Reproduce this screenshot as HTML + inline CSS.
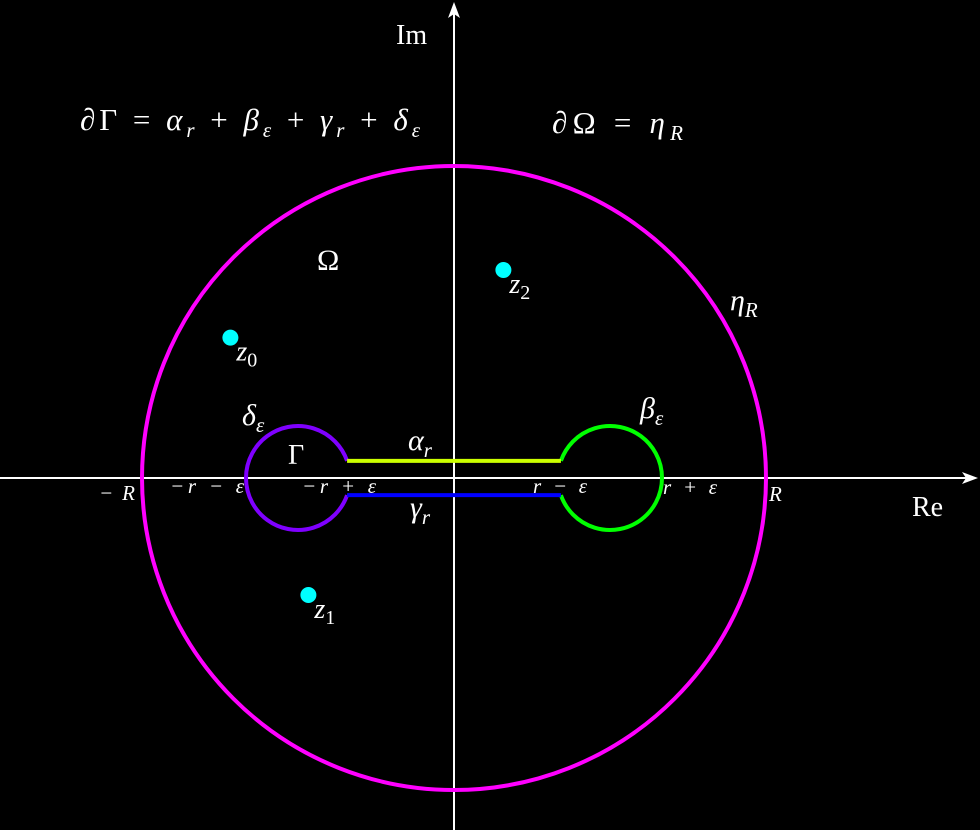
<!DOCTYPE html>
<html><head><meta charset="utf-8"><style>
html,body{margin:0;padding:0;background:#000;}
svg{display:block}
text{font-family:"Liberation Serif",serif;fill:#fff;font-style:italic}
.n{font-style:normal}
</style></head><body>
<svg width="980" height="830" viewBox="0 0 980 830">
<g id="g"></g>
</svg>
<script>
// data (in units; 1 unit = 52 px)
const Rv = [6];
const rv = [3];
const epsv = [1];
const pointNames = ["z0","z1","z2"];
const pointRe = [-4.3, -2.8, 0.95];
const pointIm = [2.7, -2.25, 4.0];
const ox=454, oy=478, u=52;
const sx=v=>ox+v*u, sy=v=>oy-v*u;
const NS="http://www.w3.org/2000/svg";
const g=document.getElementById('g');
function mk(tag,attrs,name){const e=document.createElementNS(NS,tag);for(const k in attrs)e.setAttribute(k,attrs[k]);


g.appendChild(e);return e;}
const R=Rv[0], r=rv[0], eps=epsv[0];
// axes
mk('line',{x1:0,y1:oy,x2:966,y2:oy,stroke:'#fff','stroke-width':2},'x-axis');
mk('polygon',{points:`978,${oy} 962,${oy-6} 966,${oy} 962,${oy+6}`,fill:'#fff'},'x-axis-arrow');
mk('line',{x1:ox,y1:830,x2:ox,y2:14,stroke:'#fff','stroke-width':2},'y-axis');
mk('polygon',{points:`${ox},2 ${ox-6},18 ${ox},14 ${ox+6},18`,fill:'#fff'},'y-axis-arrow');
// big circle
mk('circle',{cx:sx(0),cy:sy(0),r:R*u,fill:'none',stroke:'#ff00ff','stroke-width':4},'eta-r-circle');
const h=0.33;
const a=Math.asin(h/eps);
const ex=eps*Math.cos(a);
mk('path',{d:`M ${sx(-r+ex)} ${sy(h)} A ${eps*u} ${eps*u} 0 1 0 ${sx(-r+ex)} ${sy(-h)}`,fill:'none',stroke:'#7f00ff','stroke-width':4},'delta-eps-arc');
mk('path',{d:`M ${sx(r-ex)} ${sy(h)} A ${eps*u} ${eps*u} 0 1 1 ${sx(r-ex)} ${sy(-h)}`,fill:'none',stroke:'#00ff00','stroke-width':4},'beta-eps-arc');
mk('line',{x1:sx(-r+ex),y1:sy(h),x2:sx(r-ex),y2:sy(h),stroke:'#ccff00','stroke-width':4},'alpha-r-segment');
mk('line',{x1:sx(-r+ex),y1:sy(-h),x2:sx(r-ex),y2:sy(-h),stroke:'#0000ff','stroke-width':4},'gamma-r-segment');
pointNames.forEach((n,i)=>{
 mk('circle',{cx:sx(pointRe[i]),cy:sy(pointIm[i]),r:8,fill:'#00ffff'},'point-'+n);
 const t=mk('text',{x:sx(pointRe[i])+6,y:sy(pointIm[i])+23,'font-size':28},'label-'+n);
 t.innerHTML='z<tspan font-size="20" font-style="normal" dy="6">'+n.slice(1)+'</tspan>';
});
function txt(x,y,s,html,name,cls,len){const t=mk('text',{x:x,y:y,'font-size':s},name);if(cls)t.setAttribute('class',cls);if(len){t.setAttribute('textLength',len);t.setAttribute('lengthAdjust','spacing');}t.innerHTML=html;return t;}
txt(396,44,28,'Im','im-label','n');
txt(912,516,28,'Re','re-label','n');
txt(80,130,31,'<tspan font-style="normal">∂Γ = </tspan>α<tspan font-size="21" dy="7">r</tspan><tspan dy="-7" font-style="normal"> + </tspan>β<tspan font-size="21" dy="7">ε</tspan><tspan dy="-7" font-style="normal"> + </tspan>γ<tspan font-size="21" dy="7">r</tspan><tspan dy="-7" font-style="normal"> + </tspan>δ<tspan font-size="21" dy="7">ε</tspan>','boundary-gamma-formula',null,340);
txt(552,133,31,'<tspan font-style="normal">∂Ω = </tspan>η<tspan font-size="21" dy="7">R</tspan>','boundary-omega-formula',null,131);
txt(317,270,30,'Ω','omega-label','n');
txt(288,464,28,'Γ','gamma-region-label','n');
txt(730,310,30,'η<tspan font-size="21" dy="7">R</tspan>','eta-r-label');
txt(242,425,30,'δ<tspan font-size="21" dy="7">ε</tspan>','delta-eps-label');
txt(640,418,30,'β<tspan font-size="21" dy="7">ε</tspan>','beta-eps-label');
txt(408,450,30,'α<tspan font-size="21" dy="7">r</tspan>','alpha-r-label');
txt(410,517,30,'γ<tspan font-size="21" dy="7">r</tspan>','gamma-r-label');
txt(99,500,21,'−R','tick-neg-R',null,36);
txt(170,493,21,'−r − ε','tick-neg-r-minus-eps',null,74);
txt(302,493,21,'−r + ε','tick-neg-r-plus-eps',null,74);
txt(533,493,21,'r − ε','tick-r-minus-eps',null,54);
txt(663,494,21,'r + ε','tick-r-plus-eps',null,54);
txt(769,501,21,'R','tick-R');
</script>
</body></html>
